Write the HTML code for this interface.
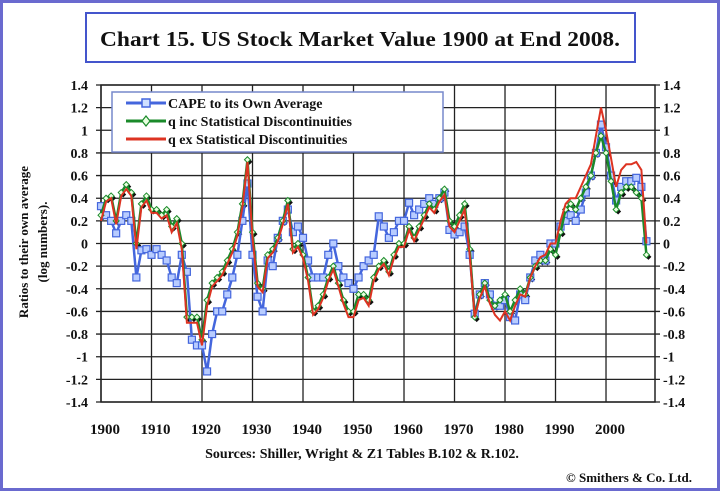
<!DOCTYPE html>
<html><head><meta charset="utf-8"><style>
body{margin:0;background:#fff;}
svg text{font-family:"Liberation Serif",serif;font-weight:bold;fill:#111;}
</style></head><body>
<svg id="chart" width="720" height="491" xmlns="http://www.w3.org/2000/svg">
<rect x="1.5" y="1.5" width="717" height="488" fill="#fff" stroke="#6a6acf" stroke-width="3"/>
<rect x="86" y="13" width="549" height="49" fill="#fff" stroke="#4455cc" stroke-width="2"/>
<text x="360" y="46" text-anchor="middle" font-size="21" textLength="520" lengthAdjust="spacingAndGlyphs">Chart 15. US Stock Market Value 1900 at End 2008.</text>
<g id="grid"></g>
<g id="axes"></g>
<g id="series"></g>
<g>
<rect x="112" y="92" width="331" height="60" fill="#fff" stroke="#7788cc" stroke-width="1.5"/>
<g><line x1="126" y1="103" x2="166" y2="103" stroke="#4466dd" stroke-width="3"/><rect x="142" y="99" width="8" height="8" fill="#cfe0ff" stroke="#4466dd" stroke-width="1.5"/><text x="168" y="108" font-size="14">CAPE to its Own Average</text></g>
<g><line x1="126" y1="121" x2="166" y2="121" stroke="#1a8a2a" stroke-width="3"/><path d="M146 116 L150 121 L146 126 L142 121 Z" fill="#e8ffe0" stroke="#1a8a2a" stroke-width="1.2"/><text x="168" y="126" font-size="14">q inc Statistical Discontinuities</text></g>
<g><line x1="126" y1="139" x2="166" y2="139" stroke="#dd3322" stroke-width="3"/><text x="168" y="144" font-size="14">q ex Statistical Discontinuities</text></g>
</g>
<text transform="translate(28,242) rotate(-90)" text-anchor="middle" font-size="13">Ratios to their own average</text>
<text transform="translate(47,242) rotate(-90)" text-anchor="middle" font-size="13">(log numbers).</text>
<text x="362" y="458" text-anchor="middle" font-size="14">Sources: Shiller, Wright &amp; Z1 Tables B.102 &amp; R.102.</text>
<text x="692" y="482" text-anchor="end" font-size="13" font-weight="normal">© Smithers &amp; Co. Ltd.</text>
</svg>
<script>
const years=[];for(let y=1900;y<=2008;y++)years.push(y);
const yTicks=[1.4,1.2,1,0.8,0.6,0.4,0.2,0,-0.2,-0.4,-0.6,-0.8,-1,-1.2,-1.4];
const xTicks=[1900,1910,1920,1930,1940,1950,1960,1970,1980,1990,2000];
const cape=[0.33,0.25,0.2,0.09,0.2,0.25,0.2,-0.3,-0.06,-0.05,-0.1,-0.05,-0.1,-0.15,-0.3,-0.35,-0.1,-0.25,-0.85,-0.9,-0.9,-1.13,-0.8,-0.6,-0.6,-0.45,-0.3,-0.1,0.2,0.53,-0.1,-0.47,-0.6,-0.15,-0.2,0.05,0.2,0.3,0.1,0.15,0.05,-0.15,-0.3,-0.3,-0.3,-0.1,0.0,-0.2,-0.3,-0.35,-0.4,-0.3,-0.2,-0.15,-0.1,0.24,0.15,0.05,0.1,0.2,0.2,0.36,0.25,0.3,0.35,0.4,0.35,0.4,0.45,0.12,0.08,0.1,0.15,-0.1,-0.62,-0.45,-0.35,-0.45,-0.55,-0.55,-0.5,-0.65,-0.68,-0.45,-0.5,-0.3,-0.15,-0.1,-0.15,0.0,0.0,0.15,0.2,0.25,0.2,0.3,0.45,0.6,0.8,1.05,0.85,0.6,0.38,0.5,0.55,0.55,0.58,0.5,0.02];
const qInc=[0.25,0.4,0.42,0.2,0.45,0.52,0.45,0.0,0.35,0.42,0.3,0.3,0.25,0.3,0.15,0.22,0.0,-0.65,-0.65,-0.65,-0.85,-0.5,-0.35,-0.3,-0.25,-0.15,-0.05,0.1,0.35,0.74,0.1,-0.35,-0.4,-0.1,-0.05,0.05,0.2,0.38,-0.05,0.0,-0.1,-0.3,-0.6,-0.55,-0.45,-0.3,-0.2,-0.35,-0.5,-0.6,-0.6,-0.45,-0.45,-0.5,-0.3,-0.2,-0.15,-0.25,-0.1,0.0,0.0,0.15,0.05,0.15,0.25,0.35,0.3,0.4,0.48,0.2,0.15,0.25,0.35,-0.05,-0.65,-0.45,-0.35,-0.5,-0.55,-0.5,-0.45,-0.6,-0.5,-0.4,-0.45,-0.3,-0.2,-0.15,-0.15,-0.05,-0.1,0.1,0.3,0.35,0.3,0.4,0.5,0.6,0.8,0.95,0.8,0.55,0.3,0.45,0.5,0.5,0.45,0.4,-0.1];
const qEx=[0.2,0.37,0.4,0.17,0.42,0.48,0.42,-0.05,0.32,0.38,0.27,0.27,0.22,0.25,0.1,0.18,-0.05,-0.7,-0.7,-0.7,-0.9,-0.55,-0.38,-0.33,-0.28,-0.18,-0.08,0.07,0.32,0.72,0.05,-0.38,-0.43,-0.13,-0.08,0.02,0.17,0.35,-0.08,-0.03,-0.13,-0.33,-0.63,-0.58,-0.48,-0.33,-0.23,-0.38,-0.53,-0.65,-0.65,-0.5,-0.48,-0.55,-0.33,-0.23,-0.18,-0.28,-0.13,-0.03,-0.03,0.12,0.02,0.12,0.22,0.32,0.27,0.37,0.43,0.15,0.1,0.2,0.3,-0.1,-0.65,-0.48,-0.38,-0.53,-0.63,-0.68,-0.6,-0.68,-0.55,-0.45,-0.47,-0.3,-0.2,-0.12,-0.1,0.0,0.0,0.2,0.35,0.4,0.4,0.5,0.6,0.7,0.95,1.2,1.0,0.75,0.5,0.65,0.7,0.7,0.72,0.65,0.0];
const X0=101,X1=655,Y0=85,Y1=402;
const xs=y=>X0+(y-1900)*(X1-X0)/(2009.7-1900);
const ys=v=>Y0+(1.4-v)*(Y1-Y0)/2.8;
const NS='http://www.w3.org/2000/svg';
function mk(tag,parent,attrs){const e=document.createElementNS(NS,tag);for(const k in attrs)e.setAttribute(k,attrs[k]);parent.appendChild(e);return e;}
const grid=document.getElementById('grid'),axes=document.getElementById('axes'),ser=document.getElementById('series');
yTicks.forEach(v=>{
  const l=mk('line',grid,{x1:X0-5,x2:X1+5,y1:ys(v),y2:ys(v),stroke:'#222','stroke-width':1.3});
  
  
  const t1=mk('text',axes,{x:88,y:ys(v)+5,'text-anchor':'end','font-size':14});t1.textContent=String(v);
  
  
  const t2=mk('text',axes,{x:663,y:ys(v)+5,'text-anchor':'start','font-size':14});t2.textContent=String(v);
  
  
});
xTicks.forEach(y=>{
  const l=mk('line',grid,{x1:xs(y),x2:xs(y),y1:Y0,y2:Y1,stroke:'#222','stroke-width':1.3});
  
  
  const t=mk('text',axes,{x:xs(y)+4,y:434,'text-anchor':'middle','font-size':15});t.textContent=String(y);
  
  
});
const fr=mk('rect',grid,{x:X0,y:Y0,width:X1-X0,height:Y1-Y0,fill:'none',stroke:'#222','stroke-width':1.5});


function pts(arr){return arr.map((v,i)=>xs(years[i]).toFixed(1)+','+ys(v).toFixed(1)).join(' ');}
// shadow markers for q inc
qInc.forEach((v,i)=>{const x=xs(years[i])+2,y=ys(v)+2;
  const s=mk('path',ser,{d:`M${x} ${y-3}L${x+3} ${y}L${x} ${y+3}L${x-3} ${y}Z`,fill:'#111'});
  
  });
const lc=mk('polyline',ser,{points:pts(cape),fill:'none',stroke:'#4466dd','stroke-width':2.5});


cape.forEach((v,i)=>{const m=mk('rect',ser,{x:xs(years[i])-3.5,y:ys(v)-3.5,width:7,height:7,fill:'#b8ccff',stroke:'#4466dd','stroke-width':1.2});
  
  });
const lg=mk('polyline',ser,{points:pts(qInc),fill:'none',stroke:'#1a8a2a','stroke-width':2.5});


qInc.forEach((v,i)=>{const x=xs(years[i]),y=ys(v);
  const m=mk('path',ser,{d:`M${x} ${y-3}L${x+3} ${y}L${x} ${y+3}L${x-3} ${y}Z`,fill:'#eaffe0',stroke:'#1a8a2a','stroke-width':1});
  
  });
const lr=mk('polyline',ser,{points:pts(qEx),fill:'none',stroke:'#dd3322','stroke-width':2});


</script>
</body></html>
